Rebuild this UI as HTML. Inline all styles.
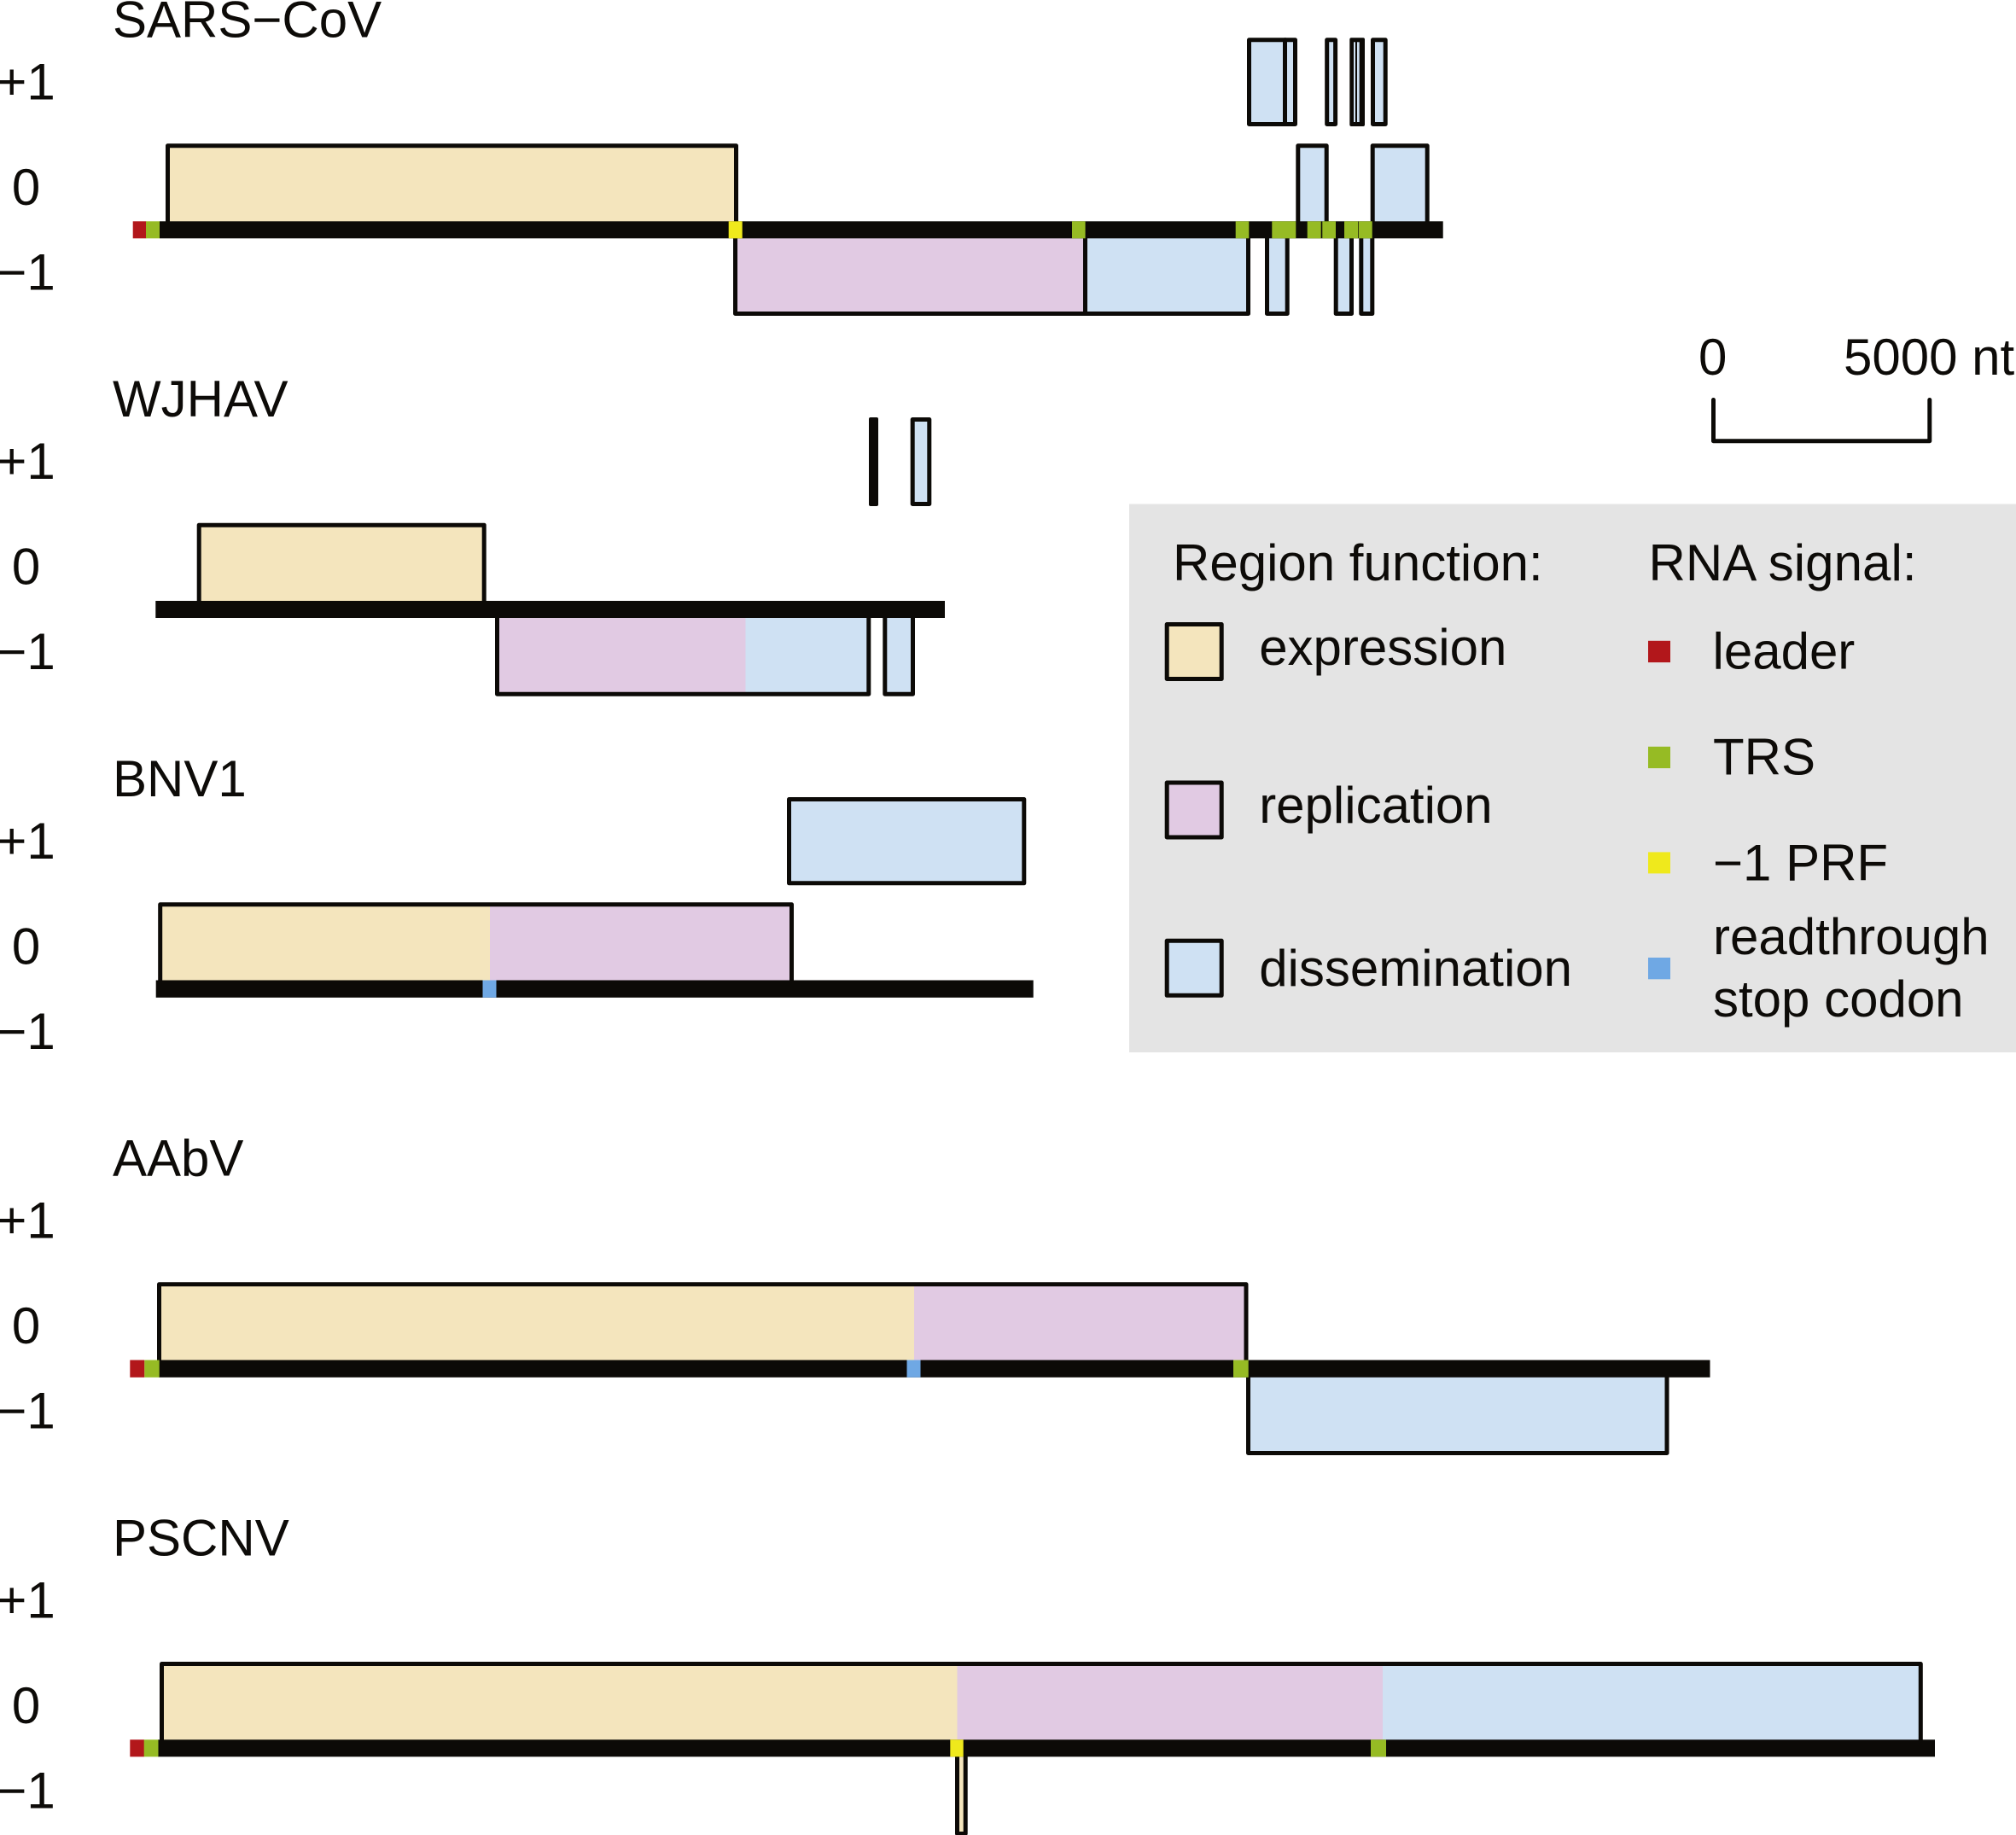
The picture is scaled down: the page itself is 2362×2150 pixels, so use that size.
<!DOCTYPE html>
<html>
<head>
<meta charset="utf-8">
<style>
html,body{margin:0;padding:0;background:#fff;}
svg{display:block;}
text{font-family:"Liberation Sans",Arial,sans-serif;font-size:60px;fill:#0d0b08;}
.b{stroke:#0c0a07;stroke-width:5;stroke-linejoin:round;}
.e{fill:#f4e5bd}.r{fill:#e1cae3}.d{fill:#cfe1f3}
.o{fill:none}
.bar{fill:#0c0a07}
.L{fill:#b2171b}.T{fill:#96bb24}.P{fill:#efe91c}.S{fill:#6fa8e4}
.m{text-anchor:middle}
</style>
</head>
<body>
<svg width="2362" height="2150" viewBox="0 0 2362 2150" xmlns="http://www.w3.org/2000/svg">
<rect width="2362" height="2150" fill="#fff"/>

<!-- SARS-CoV -->
<text x="132" y="43.5">SARS−CoV</text>
<text class="m" x="30.5" y="116.5">+1</text>
<text class="m" x="30.5" y="240">0</text>
<text class="m" x="30.5" y="339.5">−1</text>

<rect class="b d" x="1463.5" y="46.8" width="42.5" height="98.7"/>
<rect class="b d" x="1505.5" y="46.8" width="12" height="98.7"/>
<rect class="b d" x="1554.7" y="46.8" width="9.9" height="98.7"/>
<rect x="1581.3" y="44.3" width="17.7" height="103.7" rx="2" fill="#0c0a07"/>
<rect class="d" x="1586" y="49.3" width="2" height="93.7"/>
<rect class="d" x="1590" y="49.3" width="2.7" height="93.7"/>
<rect class="b d" x="1608.5" y="46.8" width="14.7" height="98.7"/>

<rect class="b e" x="196.5" y="170.8" width="666" height="95"/>
<rect class="b d" x="1520.8" y="170.8" width="33.4" height="95"/>
<rect class="b d" x="1608.2" y="170.8" width="64" height="95"/>

<rect class="b r" x="861.5" y="272" width="410" height="95.5"/>
<rect class="b d" x="1271.5" y="272" width="191" height="95.5"/>
<rect class="b d" x="1484.5" y="272" width="23.7" height="95.5"/>
<rect class="b d" x="1565.2" y="272" width="18.3" height="95.5"/>
<rect class="b d" x="1594.8" y="272" width="13" height="95.5"/>

<rect class="bar" x="187" y="259.3" width="1503.7" height="20"/>
<rect class="L" x="155.7" y="259.3" width="15.6" height="20"/>
<rect class="T" x="171" y="259.3" width="16" height="20"/>
<rect class="P" x="853.7" y="259.3" width="16" height="20"/>
<rect class="T" x="1256" y="259.3" width="15.6" height="20"/>
<rect class="T" x="1447.7" y="259.3" width="15.6" height="20"/>
<rect class="T" x="1490.3" y="259.3" width="28" height="20"/>
<rect class="T" x="1531.7" y="259.3" width="16" height="20"/>
<rect class="T" x="1549.3" y="259.3" width="15.7" height="20"/>
<rect class="T" x="1575" y="259.3" width="16" height="20"/>
<rect class="T" x="1591.7" y="259.3" width="16" height="20"/>

<!-- WJHAV -->
<text x="132" y="488.2">WJHAV</text>
<text class="m" x="30.5" y="561.2">+1</text>
<text class="m" x="30.5" y="684.7">0</text>
<text class="m" x="30.5" y="784.2">−1</text>

<rect x="1018" y="489" width="11" height="104" rx="2" fill="#0c0a07"/>
<rect class="b d" x="1069.2" y="491.5" width="19.6" height="99"/>

<rect class="b e" x="233.2" y="615.2" width="334" height="95"/>
<rect class="r" x="582.5" y="716" width="291" height="97.2"/>
<rect class="d" x="873.5" y="716" width="144.3" height="97.2"/>
<rect class="b o" x="582.5" y="716" width="435.3" height="97.2"/>
<rect class="b d" x="1036.8" y="716" width="32.7" height="97.2"/>
<rect class="bar" x="182.3" y="704" width="924.7" height="20"/>

<!-- BNV1 -->
<text x="132" y="932.9">BNV1</text>
<text class="m" x="30.5" y="1005.9">+1</text>
<text class="m" x="30.5" y="1129.4">0</text>
<text class="m" x="30.5" y="1228.9">−1</text>

<rect class="b d" x="924.5" y="936.5" width="275.3" height="98.3"/>
<rect class="e" x="187.7" y="1059.8" width="386.3" height="96"/>
<rect class="r" x="574" y="1059.8" width="353.5" height="96"/>
<rect class="b o" x="187.7" y="1059.8" width="739.8" height="96"/>
<rect class="bar" x="182.7" y="1148.5" width="1028" height="20.3"/>
<rect class="S" x="565.5" y="1148.5" width="16" height="20.3"/>

<!-- AAbV -->
<text x="132" y="1377.6">AAbV</text>
<text class="m" x="30.5" y="1450.6">+1</text>
<text class="m" x="30.5" y="1574.1">0</text>
<text class="m" x="30.5" y="1673.6">−1</text>

<rect class="e" x="186.5" y="1504.8" width="884.5" height="96"/>
<rect class="r" x="1071" y="1504.8" width="389" height="96"/>
<rect class="b o" x="186.5" y="1504.8" width="1273.5" height="96"/>
<rect class="b d" x="1462.5" y="1606" width="490.5" height="96.5"/>
<rect class="bar" x="186" y="1593.5" width="1817.5" height="20.3"/>
<rect class="L" x="152.3" y="1593.5" width="17" height="20.3"/>
<rect class="T" x="169.3" y="1593.5" width="17.4" height="20.3"/>
<rect class="S" x="1062.5" y="1593.5" width="16" height="20.3"/>
<rect class="T" x="1445" y="1593.5" width="17.7" height="20.3"/>

<!-- PSCNV -->
<text x="132" y="1822.3">PSCNV</text>
<text class="m" x="30.5" y="1895.3">+1</text>
<text class="m" x="30.5" y="2018.8">0</text>
<text class="m" x="30.5" y="2118.3">−1</text>

<rect class="e" x="189.5" y="1949.5" width="932" height="96"/>
<rect class="r" x="1121.5" y="1949.5" width="498.5" height="96"/>
<rect class="d" x="1620" y="1949.5" width="630.3" height="96"/>
<rect class="b o" x="189.5" y="1949.5" width="2060.8" height="96"/>
<rect class="b e" x="1121.5" y="2050" width="9.7" height="98.5"/>
<rect class="bar" x="185" y="2038.3" width="2082" height="20"/>
<rect class="L" x="152.3" y="2038.3" width="16.7" height="20"/>
<rect class="T" x="168.7" y="2038.3" width="16.8" height="20"/>
<rect class="P" x="1113.3" y="2038.3" width="15.4" height="20"/>
<rect class="T" x="1606" y="2038.3" width="18" height="20"/>

<!-- Scale -->
<text x="1990" y="439">0</text>
<text x="2160" y="439">5000 nt</text>
<path d="M2007.5,468.5 V516.7 H2260.8 V468.5" fill="none" stroke="#0c0a07" stroke-width="5" stroke-linejoin="round" stroke-linecap="round"/>

<!-- Legend -->
<rect x="1323" y="590.5" width="1039" height="642.5" fill="#e4e4e4"/>
<text x="1374" y="680">Region function:</text>
<rect class="b e" x="1367.2" y="731.5" width="64" height="64"/>
<rect class="b r" x="1367.2" y="917" width="64" height="64"/>
<rect class="b d" x="1367.2" y="1102.3" width="64" height="64"/>
<text x="1475.2" y="778.9">expression</text>
<text x="1475.2" y="963.8">replication</text>
<text x="1475.2" y="1154.8">dissemination</text>

<text x="1931.5" y="680" textLength="314">RNA signal:</text>
<rect class="L" x="1931" y="750.8" width="26" height="25.3"/>
<rect class="T" x="1931" y="874.8" width="26" height="25.3"/>
<rect class="P" x="1931" y="998.4" width="26" height="25"/>
<rect class="S" x="1931" y="1122" width="26" height="25.3"/>
<text x="2006.5" y="783.5">leader</text>
<text x="2007" y="907.5">TRS</text>
<text x="2007" y="1031.7">−1 PRF</text>
<text x="2007" y="1118">readthrough</text>
<text x="2007" y="1191">stop codon</text>
</svg>
</body>
</html>
